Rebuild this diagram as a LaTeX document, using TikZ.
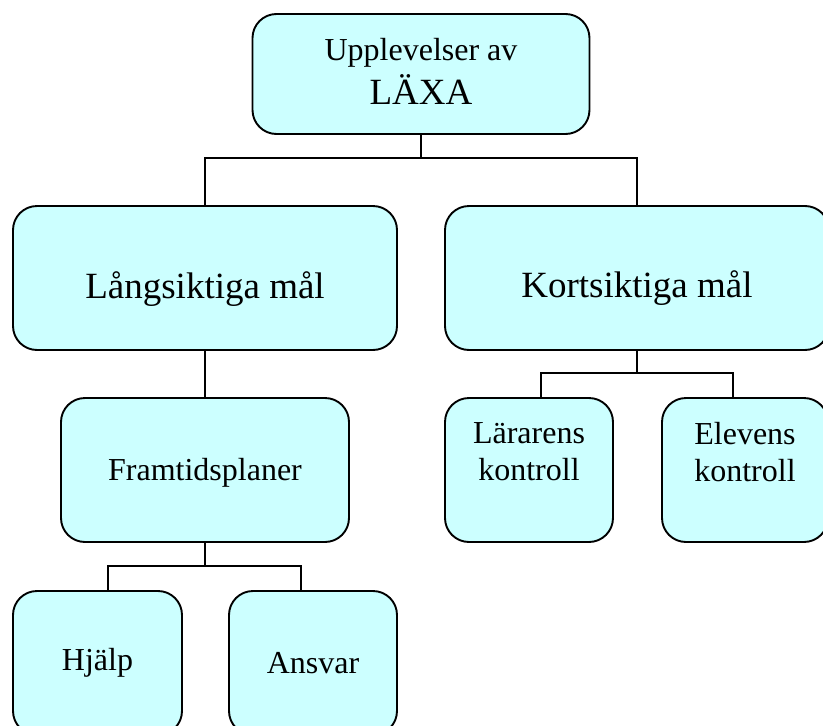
\documentclass[tikz,border=0pt]{standalone}
\usepackage{fontspec}
\setmainfont{Liberation Serif}
\usepackage{tikz}
\usetikzlibrary{positioning}
\definecolor{boxcyan}{HTML}{CCFFFF}
\tikzstyle{box}=[draw=black,fill=boxcyan,rounded corners=24pt,line width=1.9pt,align=center,inner sep=0pt,font=\fontsize{32}{37}\selectfont]
\tikzstyle{big}=[font=\fontsize{37}{42}\selectfont]
\tikzset{every picture/.style={line width=1.9pt}}

\begin{document}
\begin{tikzpicture}[x=1pt,y=-1pt]
\useasboundingbox (0,0) rectangle (823,726);
\node[box,minimum width=337pt,minimum height=120pt,label={[align=center,font=\fontsize{32}{37}\selectfont,yshift=3pt]center:Upplevelser av\\[7pt]{\fontsize{37}{42}\selectfont LÄXA}}] (top) at (421,74) {};
\node[box,minimum width=384pt,minimum height=144pt,label={[big,yshift=-11pt]center:Långsiktiga mål}] (lang) at (205,278) {};
\node[box,minimum width=384pt,minimum height=144pt,label={[big,yshift=-10pt]center:Kortsiktiga mål}] (kort) at (637,278) {};
\node[box,minimum width=288pt,minimum height=144pt,label={[font=\fontsize{32}{37}\selectfont,yshift=-3pt]center:Framtidsplaner}] (fram) at (205,470) {};
\node[box,minimum width=168pt,minimum height=144pt,label={[align=center,font=\fontsize{32}{37}\selectfont,yshift=18pt]center:Lärarens\\kontroll}] (lar) at (529,470) {};
\node[box,minimum width=166pt,minimum height=144pt,label={[align=center,font=\fontsize{32}{37}\selectfont,yshift=18pt]center:Elevens\\kontroll}] (elev) at (745,470) {};
\node[box,minimum width=169pt,minimum height=144pt] (hjalp) at (97.5,663) {Hjälp};
\node[box,minimum width=168pt,minimum height=144pt] (ansvar) at (313,663) {Ansvar};
% branch points
\coordinate (j1) at (421,158);
\coordinate (j2) at (637,373);
\coordinate (j3) at (205,566);
\draw (top.south) -- (j1) -| (lang.north);
\draw (j1) -| (kort.north);
\draw (lang.south) -- (fram.north);
\draw (kort.south) -- (j2) -| ([xshift=12pt]lar.north);
\draw (j2) -| ([xshift=-12pt]elev.north);
\draw (fram.south) -- (j3) -| ([xshift=10.5pt]hjalp.north);
\draw (j3) -| ([xshift=-12pt]ansvar.north);
\end{tikzpicture}
\end{document}
